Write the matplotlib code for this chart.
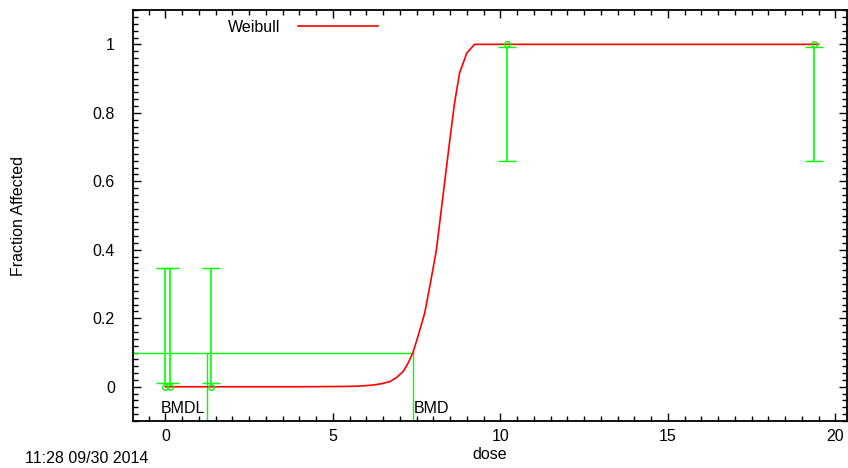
"""Weibull dose-response plot with BMD / BMDL markers."""

import matplotlib
matplotlib.use("Agg")
import matplotlib.pyplot as plt
from matplotlib.ticker import MultipleLocator

plt.rcParams["font.family"] = ["Liberation Sans", "DejaVu Sans"]

# Observed groups: dose, fraction affected and confidence limits
obs_dose = [0.0, 0.14, 1.37, 10.2, 19.38]
obs_frac = [0.0, 0.0, 0.0, 1.0, 1.0]
obs_lower = [0.011, 0.011, 0.011, 0.658, 0.658]
obs_upper = [0.346, 0.346, 0.346, 0.993, 0.993]

# Fitted Weibull curve (sampled)
fit_dose = [0.0, 4.0, 5.4, 5.8, 6.2, 6.45, 6.7, 6.9, 7.1, 7.25, 7.39, 7.54,
            7.74, 7.91, 8.09, 8.24, 8.34, 8.49, 8.63, 8.78, 9.0, 9.23, 19.5]
fit_resp = [0.0, 0.0, 0.001, 0.002, 0.005, 0.009, 0.015, 0.027, 0.045, 0.07,
            0.10, 0.147, 0.215, 0.302, 0.40, 0.52, 0.60, 0.72, 0.827, 0.916,
            0.975, 1.0, 1.0]

bmr = 0.1
bmd = 7.39
bmdl = 1.23

GREEN = "#00ff00"
RED = "#ff0000"
FS = 11.5

fig = plt.figure(figsize=(8.48, 4.68), dpi=100)
ax = fig.add_axes([0.1568, 0.1004, 0.842, 0.878])

x_min, x_max = -0.97, 20.35
ax.set_xlim(x_min, x_max)
ax.set_ylim(-0.1, 1.1)

# model curve
ax.plot(fit_dose, fit_resp, color=RED, linewidth=1.2, label="Weibull", zorder=3)

# confidence intervals and observed points
mid = [(lo + hi) / 2 for lo, hi in zip(obs_lower, obs_upper)]
half = [(hi - lo) / 2 for lo, hi in zip(obs_lower, obs_upper)]
ax.errorbar(obs_dose, mid, yerr=half, fmt="none", ecolor=GREEN,
            elinewidth=1.2, capsize=6.4, capthick=1.0, zorder=2)
ax.plot(obs_dose, obs_frac, linestyle="none", marker="o", markersize=4,
        markerfacecolor="none", markeredgecolor=GREEN, markeredgewidth=1.0,
        zorder=4)

# BMD / BMDL reference lines
ax.plot([x_min, bmd], [bmr, bmr], color=GREEN, linewidth=1.0, zorder=2)
ax.plot([bmd, bmd], [bmr, -0.1], color=GREEN, linewidth=1.0, zorder=2)
ax.plot([bmdl, bmdl], [bmr, -0.1], color=GREEN, linewidth=1.0, zorder=2)
ax.text(bmdl - 0.05, -0.064, "BMDL", ha="right", va="center", fontsize=FS)
ax.text(bmd + 0.02, -0.064, "BMD", ha="left", va="center", fontsize=FS)

# gnuplot-like ticks: inward, mirrored, with minors
ax.xaxis.set_major_locator(MultipleLocator(5))
ax.xaxis.set_minor_locator(MultipleLocator(0.5))
ax.yaxis.set_major_locator(MultipleLocator(0.2))
ax.yaxis.set_minor_locator(MultipleLocator(0.02))
ax.set_yticks([0, 0.2, 0.4, 0.6, 0.8, 1.0])
ax.set_yticklabels(["0", "0.2", "0.4", "0.6", "0.8", "1"])
ax.tick_params(which="both", direction="in", top=True, right=True,
               labelsize=FS, width=1.0)
ax.tick_params(which="major", length=6)
ax.tick_params(which="minor", length=3.5)
ax.tick_params(axis="x", which="major", pad=6)
ax.tick_params(axis="y", which="major", pad=13)
for s in ax.spines.values():
    s.set_linewidth(1.3)

ax.set_xlabel("dose", fontsize=FS, labelpad=2)
ax.set_ylabel("Fraction Affected", fontsize=FS, labelpad=48)

ax.legend(loc="upper left", bbox_to_anchor=(0.12, 1.0), frameon=False,
          markerfirst=False, handlelength=5.0, handletextpad=1.1,
          borderaxespad=0.2, fontsize=FS)

fig.text(0.03, 0.004, "11:28 09/30 2014", ha="left", va="bottom",
         fontsize=FS)

fig.savefig("out.png", dpi=100)
